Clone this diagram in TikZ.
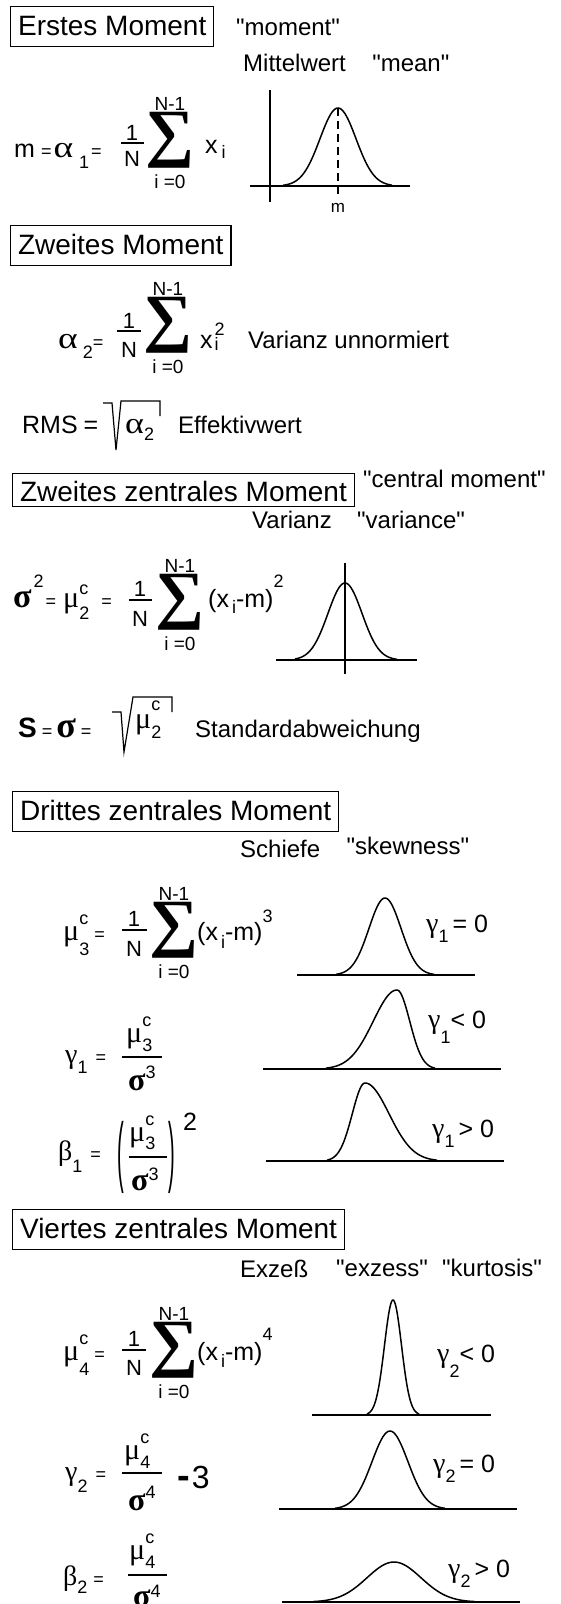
\documentclass[tikz,border=0pt]{standalone}
\usepackage{fontspec}
\usepackage{graphicx}
\setmainfont{Liberation Sans}[Ligatures=TeXOff]
\newfontfamily\grk{Liberation Serif}[Ligatures=TeXOff]
\usetikzlibrary{positioning}

\newcommand{\fhd}{\fontsize{28}{32}\selectfont}
\newcommand{\flb}{\fontsize{24}{28}\selectfont}
\newcommand{\fmn}{\fontsize{25}{28}\selectfont}
\newcommand{\fnum}{\fontsize{22}{24}\selectfont}
\newcommand{\flim}{\fontsize{19}{21}\selectfont}
\newcommand{\fsub}{\fontsize{18}{20}\selectfont}
\newcommand{\gk}[2][28]{{\fontsize{#1}{#1}\selectfont\grk #2}}
\newcommand{\lo}[2][-7pt]{\raisebox{#1}{\fsub #2}}
\newcommand{\hi}[2][12pt]{\raisebox{#1}{\fsub #2}}
\newcommand{\cl}[3]{\rlap{\raisebox{#1}{\fsub c}}\raisebox{#2}{\fsub #3}}
\newcommand{\sumsign}{\resizebox*{49pt}{56pt}{\grk\bfseries ∑}}

\tikzset{
  hdr/.style={draw, line width=1.2pt, anchor=north west, inner xsep=7.5pt,
    inner ysep=4pt, text height=25pt, text depth=7pt, font=\fhd},
  lbl/.style={anchor=base west, inner sep=0pt, font=\flb},
  fml/.style={anchor=base west, inner sep=0pt, font=\fmn},
  num/.style={anchor=base, inner sep=0pt, font=\fnum},
  lim/.style={inner sep=0pt, font=\flim},
  sig/.style={inner sep=0pt},
  fbar/.style={line width=1.3pt},
  gaxis/.style={line width=1.5pt},
  crv/.style={line width=1.5pt, samples=70, smooth},
  rad/.style={line width=1.2pt, line join=miter},
}

\begin{document}
\begin{tikzpicture}[x=1pt,y=-1pt]
\useasboundingbox (0,0) rectangle (561,1604);

% Erstes Moment
\node[hdr] (h1) at (10,6) {Erstes Moment};
\node[lbl] (mom) at (236,35) {"moment"};
\node[lbl] (mit) at (243,71) {Mittelwert};
\node[lbl, right=26pt of mit.base east, anchor=base west] (mean) {"mean"};

\node[fml] (f1) at (14,157) {m\hspace{6pt}{\fsub =}\hspace{2pt}\gk[30]{\scalebox{1.25}[1]{α}}\hspace{6pt}\lo[-11pt]{1}\hspace{2pt}{\fsub =}};
\node[num] (n1) at (132,140) {1};
\node[num] (d1) at (132,166) {N};
\draw[fbar] (121,143) -- (144,143);
\node[sig] (s1) at (170,140) {\sumsign};
\node[lim, above=1pt of s1] (s1t) {N-1};
\node[lim, below=6pt of s1] (s1b) {i =0};
\node[fml] (x1) at (205,153) {x\hspace{4pt}\lo[-5pt]{i}};

\draw[gaxis] (270,90) -- (270,202);
\draw[gaxis] (250,186) -- (410,186);
\draw[crv, domain=283:392] plot (\x, {186-78*exp(-((\x-338)/18)^2/2)});
\draw[crv, dashed, dash pattern=on 8pt off 5pt] (338,108) -- (338,195);
\node[anchor=base, inner sep=0pt, font=\fontsize{17}{19}\selectfont] (mlab) at (338,212) {m};

% Zweites Moment
\node[hdr] (h2) at (10,225) {Zweites Moment};
\node[fml] (f2) at (58,348) {\gk[30]{\scalebox{1.25}[1]{α}}\hspace{5pt}\lo[-10pt]{2}{\fsub =}};
\node[num] (n2) at (129,328) {1};
\node[num] (d2) at (129,357) {N};
\draw[fbar] (117,331) -- (141,331);
\node[sig] (s2) at (168,325) {\sumsign};
\node[lim, above=1pt of s2] (s2t) {N-1};
\node[lim, below=6pt of s2] (s2b) {i =0};
\node[fml] (x2) at (200,348) {x\hspace{2pt}\rlap{\raisebox{13pt}{\fsub 2}}\raisebox{-2pt}{\fsub i}};
\node[lbl] (var1) at (248,348) {Varianz unnormiert};

\node[fml] (rms) at (22,433) {RMS\hspace{6pt}=};
\draw[rad] (103,403) -- (112,403) -- (116,450) -- (121,401) -- (160,401) -- (160,416);
\node[fml] (a2) at (125,433) {\gk[30]{\scalebox{1.2}[1]{α}}\lo[-7pt]{2}};
\node[lbl] (eff) at (178,433) {Effektivwert};

% Zweites zentrales Moment
\node[hdr, inner ysep=3pt, text depth=2pt] (h3) at (12,473) {Zweites zentrales Moment};
\node[lbl] (cmom) at (363,487) {"central moment"};
\node[lbl] (var2) at (252,528) {Varianz};
\node[lbl, right=25pt of var2.base east, anchor=base west] (vari) {"variance"};

\node[fml] (f3) at (13,607) {\gk[34]{\bfseries σ}\hspace{2pt}\hi[20pt]{2}\hspace{2pt}{\fsub =}\hspace{7pt}\gk[30]{μ}\cl{13pt}{-12pt}{2}\hspace{12pt}{\fsub =}};
\node[num] (n3) at (140,596) {1};
\node[num] (d3) at (140,626) {N};
\draw[fbar] (129,600) -- (152,600);
\node[sig] (s3) at (180,602) {\sumsign};
\node[lim, above=1pt of s3] (s3t) {N-1};
\node[lim, below=6pt of s3] (s3b) {i =0};
\node[fml] (x3) at (208,607) {(x\hspace{3pt}\lo[-6pt]{i}-m)\hi[20pt]{2}};

\draw[gaxis] (345,563) -- (345,674);
\draw[gaxis] (276,660) -- (417,660);
\draw[crv, domain=295:397] plot (\x, {660-77*exp(-((\x-345)/17)^2/2)});

\node[fml] (f4) at (18,737) {{\fontsize{28}{30}\selectfont\bfseries S}\hspace{5pt}{\fsub =}\hspace{4pt}\gk[36]{\bfseries σ}\hspace{5pt}{\fsub =}};
\draw[rad] (112,712) -- (121,712) -- (124,752) -- (133,697) -- (172,697) -- (172,712);
\node[fml] (mu2) at (135,728) {\gk[30]{μ}\cl{18pt}{-10pt}{2}};
\node[lbl] (std) at (195,737) {Standardabweichung};

% Drittes zentrales Moment
\node[hdr] (h4) at (12,791) {Drittes zentrales Moment};
\node[lbl] (sch) at (240,857) {Schiefe};
\node[lbl, right=26pt of sch.base east, anchor=base west, yshift=3pt] (skw) {"skewness"};

\node[fml] (f5) at (63,940) {\gk[30]{μ}\cl{16pt}{-15pt}{3}\hspace{5pt}{\fsub =}};
\node[num] (n5) at (134,926) {1};
\node[num] (d5) at (134,956) {N};
\draw[fbar] (122,930) -- (147,930);
\node[sig] (s5) at (174,930) {\sumsign};
\node[lim, above=1pt of s5] (s5t) {N-1};
\node[lim, below=6pt of s5] (s5b) {i =0};
\node[fml] (x5) at (197,940) {(x\hspace{3pt}\lo[-8pt]{i}-m)\hi[18pt]{3}};

\draw[gaxis] (297,975) -- (475,975);
\draw[crv, domain=336:434] plot (\x, {975-77*exp(-((\x-385)/16)^2/2)});
\node[fml] (g10) at (426,932) {\gk{γ}\lo[-10pt]{1}\hspace{4pt}= 0};

\node[fml] (f6) at (65,1063) {\gk{γ}\lo[-10pt]{1}\hspace{8pt}{\fsub =}};
\node[fml] (n6) at (126,1042) {\gk[30]{μ}\cl{16pt}{-9pt}{3}};
\node[fml] (d6) at (128,1090) {\gk[32]{\bfseries σ}\hi[12pt]{3}};
\draw[fbar] (122,1057) -- (162,1057);

\draw[gaxis] (263,1069) -- (501,1069);
\draw[crv, domain=326:397] plot (\x, {1069-79*exp(-((\x-397)/23.7)^2/2)});
\draw[crv, domain=397:435] plot (\x, {1069-79*exp(-((\x-397)/12.7)^2/2)});
\node[fml] (g1n) at (428,1028) {\gk{γ}\lo[-15pt]{1}< 0};

\node[fml] (f7) at (58,1160) {\gk{β}\lo[-12pt]{1}\hspace{8pt}{\fsub =}};
\node[fml] (p7l) at (117,1177) {\scalebox{0.8}[3.1]{(}};
\node[fml] (p7r) at (168,1177) {\scalebox{0.8}[3.1]{)}};
\node[fml] (n7) at (129,1141) {\gk[30]{μ}\cl{16pt}{-8pt}{3}};
\node[fml] (d7) at (131,1190) {\gk[32]{\bfseries σ}\hi[10pt]{3}};
\draw[fbar] (129,1157) -- (167,1157);
\node[fml] (sq7) at (183,1130) {2};

\draw[gaxis] (266,1161) -- (504,1161);
\draw[crv, domain=327:365] plot (\x, {1161-78*exp(-((\x-365)/12.7)^2/2)});
\draw[crv, domain=365:437] plot (\x, {1161-78*exp(-((\x-365)/24)^2/2)});
\node[fml] (g1p) at (432,1137) {\gk{γ}\lo[-10pt]{1}\hspace{4pt}> 0};

% Viertes zentrales Moment
\node[hdr] (h5) at (12,1209) {Viertes zentrales Moment};
\node[lbl] (exz) at (240,1277) {Exzeß};
\node[lbl] (exs) at (336,1276) {"exzess"};
\node[lbl] (kur) at (442,1276) {"kurtosis"};

\node[fml] (f8) at (63,1360) {\gk[30]{μ}\cl{16pt}{-15pt}{4}\hspace{5pt}{\fsub =}};
\node[num] (n8) at (134,1346) {1};
\node[num] (d8) at (134,1375) {N};
\draw[fbar] (122,1350) -- (146,1350);
\node[sig] (s8) at (174,1350) {\sumsign};
\node[lim, above=1pt of s8] (s8t) {N-1};
\node[lim, below=6pt of s8] (s8b) {i =0};
\node[fml] (x8) at (197,1360) {(x\hspace{3pt}\lo[-7pt]{i}-m)\hi[20pt]{4}};

\draw[gaxis] (312,1415) -- (491,1415);
\draw[crv, domain=367:419] plot (\x, {1415-115*exp(-((\x-393)/8.5)^2/2)});
\node[fml] (g2n) at (437,1362) {\gk{γ}\lo[-15pt]{2}< 0};

\node[fml] (f9) at (65,1480) {\gk{γ}\lo[-12pt]{2}\hspace{8pt}{\fsub =}};
\node[fml] (n9) at (124,1459) {\gk[30]{μ}\cl{16pt}{-9pt}{4}};
\node[fml] (d9) at (128,1510) {\gk[32]{\bfseries σ}\hi[12pt]{4}};
\draw[fbar] (122,1473) -- (162,1473);
\node[anchor=base west, inner sep=0pt, font=\fontsize{32}{34}\selectfont] (m3) at (177,1488) {{\fontsize{38}{38}\selectfont\bfseries -}\hspace{2pt}3};

\draw[gaxis] (279,1509) -- (517,1509);
\draw[crv, domain=335:445] plot (\x, {1509-78*exp(-((\x-390)/18)^2/2)});
\node[fml] (g20) at (433,1472) {\gk{γ}\lo[-10pt]{2}\hspace{4pt}= 0};

\node[fml] (f10) at (63,1585) {\gk{β}\lo[-8pt]{2}\hspace{6pt}{\fsub =}};
\node[fml] (n10) at (129,1559) {\gk[30]{μ}\cl{16pt}{-9pt}{4}};
\node[fml] (d10) at (133,1606) {\gk[32]{\bfseries σ}\hi[9pt]{4}};
\draw[fbar] (128,1575) -- (167,1575);

\draw[gaxis] (282,1602) -- (520,1602);
\draw[crv, domain=313:475] plot (\x, {1602-40*exp(-((\x-394)/27)^2/2)});
\node[fml] (g2p) at (448,1577) {\gk{γ}\lo[-10pt]{2}\hspace{4pt}> 0};
\end{tikzpicture}
\end{document}
